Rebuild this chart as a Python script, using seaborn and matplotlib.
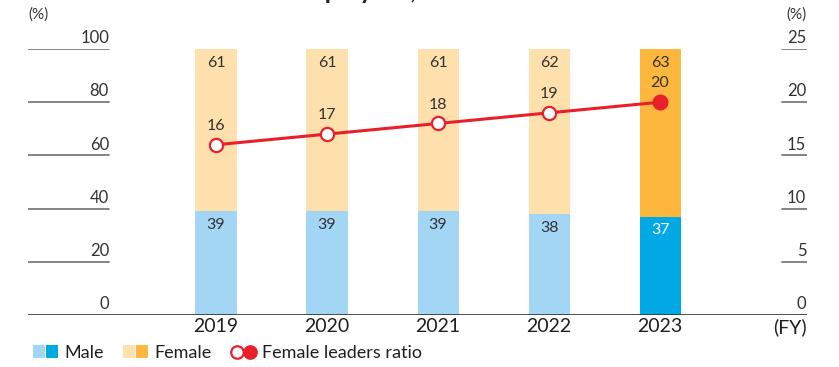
import numpy as np
import pandas as pd
import matplotlib
matplotlib.use("Agg")
import matplotlib.pyplot as plt
import seaborn as sns
from matplotlib.patches import Patch
from matplotlib.lines import Line2D
from matplotlib.legend_handler import HandlerTuple

# ---- data -------------------------------------------------------------
years = ["2019", "2020", "2021", "2022", "2023"]
male = [39, 39, 39, 38, 37]
female = [61, 61, 61, 62, 63]
leaders_ratio = [16, 17, 18, 19, 20]
left_ticks = [0, 20, 40, 60, 80, 100]
right_ticks = [0, 5, 10, 15, 20, 25]

# ---- styling ----------------------------------------------------------
MALE_LIGHT, MALE_DARK = "#a3d6f5", "#00a9e4"
FEMALE_LIGHT, FEMALE_DARK = "#fde0ab", "#fdb73f"
RED = "#e8202a"
TEXT = "#333333"
RULE = "#707070"
BASE = "#3c3c3c"

male_colors = [MALE_LIGHT] * 4 + [MALE_DARK]
female_colors = [FEMALE_LIGHT] * 4 + [FEMALE_DARK]
male_label_colors = [TEXT] * 4 + ["white"]

sns.set_theme(style="white")
plt.rcParams["font.family"] = ["Lato", "DejaVu Sans"]

W, H = 839, 367
fig = plt.figure(figsize=(W / 100, H / 100), dpi=100)


def fx(px):
    return px / W


def fy(py):
    return 1 - py / H


ax = fig.add_axes([fx(28), fy(315), fx(807) - fx(28), fy(49) - fy(315)])

df = pd.DataFrame({"year": years, "male": male, "female": female})
df["total"] = df["male"] + df["female"]

# stacked bars: full-height female colour, male share drawn over it
sns.barplot(data=df, x="year", y="total", hue="year", palette=female_colors,
            width=0.37, saturation=1, legend=False, ax=ax, linewidth=0)
sns.barplot(data=df, x="year", y="male", hue="year", palette=male_colors,
            width=0.37, saturation=1, legend=False, ax=ax, linewidth=0)

ax.set_ylim(0, 100)
ax.set_xlim(-1.694, 5.324)
ax.set_xlabel("")
ax.set_ylabel("")
ax.set_yticks([])
ax.set_xticks(range(len(years)))
ax.set_xticklabels(years)
ax.tick_params(axis="x", length=0, pad=2.5, labelsize=14, labelcolor="#231f20")
sns.despine(ax=ax, left=True, bottom=True, right=True, top=True)

# bar value labels
for i in range(len(years)):
    ax.annotate(f"{female[i]}", (i, df["total"][i]), xytext=(0, -10),
                textcoords="offset points", ha="center", va="center",
                fontsize=11.5, color=TEXT)
    ax.annotate(f"{male[i]}", (i, male[i]), xytext=(0, -10),
                textcoords="offset points", ha="center", va="center",
                fontsize=11.5, color=male_label_colors[i])

# left scale: short rules with labels sitting on them
left_frac = (109 - 28) / (807 - 28)
for v in left_ticks[1:]:
    ax.axhline(v, xmin=0, xmax=left_frac, color=RULE, lw=1.2)
for v in left_ticks:
    ax.annotate(f"{v}", (left_frac, v), xycoords=("axes fraction", "data"),
                xytext=(0, 2), textcoords="offset points",
                ha="right", va="bottom", fontsize=12, color=TEXT)

ax.axhline(0, color=BASE, lw=2, zorder=5)

# ---- female leaders ratio on secondary axis ---------------------------
ax2 = ax.twinx()
pos = np.arange(len(years))
sns.lineplot(x=pos, y=leaders_ratio, ax=ax2, color=RED, lw=2.2,
             marker="o", markersize=9.5, markerfacecolor="white",
             markeredgecolor=RED, markeredgewidth=1.6)
sns.scatterplot(x=pos[-1:], y=leaders_ratio[-1:], ax=ax2, color=RED,
                s=95, edgecolor=RED, linewidth=1.6, zorder=6)
ax2.set_ylim(0, 25)
ax2.set_xlim(-1.694, 5.324)
ax2.set_yticks([])
ax2.set_ylabel("")
sns.despine(ax=ax2, left=True, bottom=True, right=True, top=True)

for i, v in enumerate(leaders_ratio):
    ax2.annotate(f"{v}", (i, v), xytext=(0, 13.5), textcoords="offset points",
                 ha="center", va="center", fontsize=11.5, color=TEXT)

right_frac = (782 - 28) / (807 - 28)
for v in right_ticks[1:]:
    ax2.axhline(v, xmin=right_frac, xmax=1, color=RULE, lw=1.2)
for v in right_ticks:
    ax2.annotate(f"{v}", (1, v), xycoords=("axes fraction", "data"),
                 xytext=(-0.5, 2), textcoords="offset points",
                 ha="right", va="bottom", fontsize=12, color=TEXT)

# ---- unit labels ------------------------------------------------------
fig.text(fx(28), fy(15), "(%)", ha="left", va="center", fontsize=11, color=TEXT)
fig.text(fx(807), fy(15), "(%)", ha="right", va="center", fontsize=11, color=TEXT)
fig.text(fx(807), fy(327), "(FY)", ha="right", va="center", fontsize=14, color="#231f20")

# chart heading (sits above the plotting area)
fig.text(fx(330), fy(-1), "Ratio of Male and Female Employees, Female Leaders Ratio",
         ha="center", va="baseline", fontsize=18, fontweight="bold", color="#231f20")

# ---- legend -----------------------------------------------------------
handles = [
    (Patch(facecolor=MALE_LIGHT, lw=0), Patch(facecolor=MALE_DARK, lw=0)),
    (Patch(facecolor=FEMALE_LIGHT, lw=0), Patch(facecolor=FEMALE_DARK, lw=0)),
    (Line2D([], [], ls="none", marker="o", markersize=9, markerfacecolor="white",
            markeredgecolor=RED, markeredgewidth=1.6),
     Line2D([], [], ls="none", marker="o", markersize=9, markerfacecolor=RED,
            markeredgecolor=RED, markeredgewidth=1.6)),
]
labels = ["Male", "Female", "Female leaders ratio"]
fig.legend(handles, labels, handler_map={tuple: HandlerTuple(ndivide=None, pad=0.05)},
           loc="center left", bbox_to_anchor=(fx(33), fy(353)), ncol=3, frameon=False,
           fontsize=13, handlelength=1.4, handleheight=0.7, handletextpad=0.35,
           columnspacing=1.05, borderpad=0, borderaxespad=0, labelcolor="#231f20")

fig.savefig("out.png", dpi=100)
